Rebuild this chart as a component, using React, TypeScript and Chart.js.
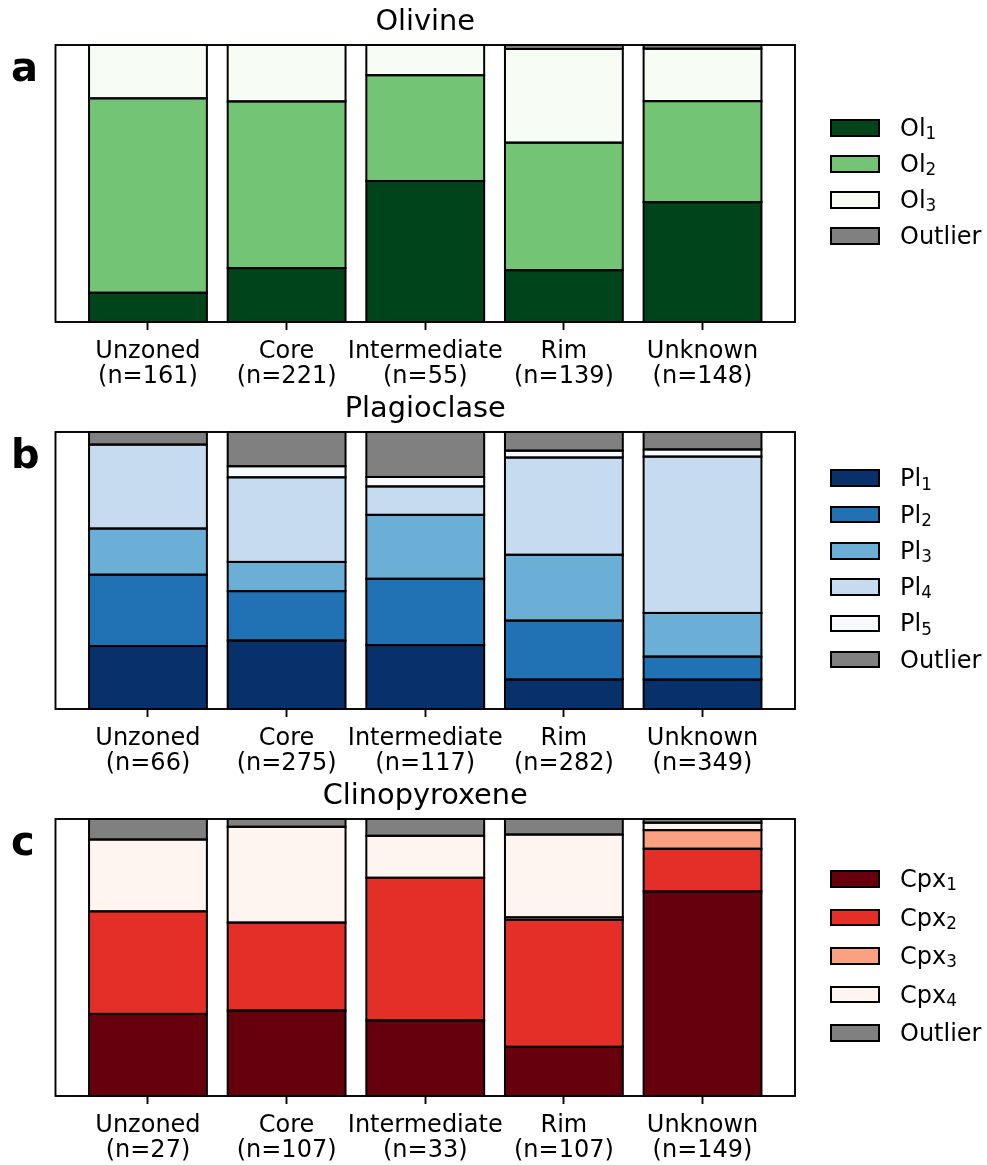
import React, { useEffect, useRef } from "react";
import { Chart, registerables } from "chart.js";

Chart.register(...registerables);

// ---------- data ----------
const categories = ["Unzoned", "Core", "Intermediate", "Rim", "Unknown"];

// Olivine (counts per category)
const olN = [161, 221, 55, 139, 148];
const ol1 = [17, 43, 28, 26, 64];
const ol2 = [113, 133, 21, 64, 54];
const ol3 = [31, 45, 6, 47, 28];
const olOutlier = [0, 0, 0, 2, 2];
const olLabels = ["Ol1", "Ol2", "Ol3", "Outlier"];

// Plagioclase (counts per category)
const plN = [66, 275, 117, 282, 349];
const pl1 = [15, 68, 27, 30, 37];
const pl2 = [17, 49, 28, 60, 29];
const pl3 = [11, 29, 27, 67, 55];
const pl4 = [20, 84, 12, 99, 197];
const pl5 = [0, 11, 4, 7, 9];
const plOutlier = [3, 34, 19, 19, 22];
const plLabels = ["Pl1", "Pl2", "Pl3", "Pl4", "Pl5", "Outlier"];

// Clinopyroxene (counts per category)
const cpxN = [27, 107, 33, 107, 149];
const cpx1 = [8, 33, 9, 19, 110];
const cpx2 = [10, 34, 17, 49, 23];
const cpx3 = [0, 0, 0, 1, 10];
const cpx4 = [7, 37, 5, 32, 4];
const cpxOutlier = [2, 3, 2, 6, 2];
const cpxLabels = ["Cpx1", "Cpx2", "Cpx3", "Cpx4", "Outlier"];

const greens = ["#00441b", "#74c476", "#f7fcf5", "#808080"];
const blues = ["#08306b", "#2171b5", "#6baed6", "#c6dbef", "#f7fbff", "#808080"];
const reds = ["#67000d", "#e32f27", "#fca082", "#fff5f0", "#808080"];

const FONT = "'DejaVu Sans', sans-serif";

type Panel = {
  title: string;
  letter: string;
  offset: number;
  n: number[];
  series: number[][];
  labels: string[];
  colors: string[];
  rowH: number;
};

const panels: Panel[] = [
  { title: "Olivine", letter: "a", offset: 0, n: olN, series: [ol1, ol2, ol3, olOutlier], labels: olLabels, colors: greens, rowH: 36 },
  { title: "Plagioclase", letter: "b", offset: 387, n: plN, series: [pl1, pl2, pl3, pl4, pl5, plOutlier], labels: plLabels, colors: blues, rowH: 36.3 },
  { title: "Clinopyroxene", letter: "c", offset: 774, n: cpxN, series: [cpx1, cpx2, cpx3, cpx4, cpxOutlier], labels: cpxLabels, colors: reds, rowH: 38.5 },
];

const CANVAS_W = 987;
const CANVAS_H = 420;
const AX_TOP = 45;
const AX_LEFT = 55.5;
const AX_RIGHT = 795;
const AX_H = 277;

// Edges of every bar, stroked centred on the bar outline (like matplotlib's edgecolor)
const edgePlugin = {
  id: "barEdges",
  afterDatasetsDraw(chart: any) {
    const { ctx, chartArea: a } = chart;
    ctx.save();
    ctx.beginPath();
    ctx.rect(a.left, a.top - 2, a.right - a.left, a.bottom - a.top + 4);
    ctx.clip();
    ctx.strokeStyle = "#000";
    ctx.lineWidth = 2;
    chart.data.datasets.forEach((_: any, di: number) => {
      const meta = chart.getDatasetMeta(di);
      meta.data.forEach((el: any) => {
        const { x, y, base, width } = el.getProps(["x", "y", "base", "width"], true);
        if (!isFinite(y) || !isFinite(base)) return;
        const top = Math.min(y, base);
        const h = Math.abs(base - y);
        ctx.strokeRect(x - width / 2, top, width, h);
      });
    });
    ctx.restore();
    // axes frame
    ctx.save();
    ctx.strokeStyle = "#000";
    ctx.lineWidth = 1.9;
    ctx.strokeRect(a.left, a.top, a.right - a.left, a.bottom - a.top);
    ctx.restore();
  },
};

function PanelChart({ panel }: { panel: Panel }) {
  const ref = useRef<HTMLCanvasElement>(null);
  useEffect(() => {
    const { n, series, labels, colors } = panel;
    const chart = new Chart(ref.current as HTMLCanvasElement, {
      type: "bar",
      data: {
        datasets: series.map((counts, si) => ({
          label: labels[si],
          data: counts.map((c, i) => ({ x: i, y: c === 0 ? null : (c / n[i]) * 100 })),
          backgroundColor: colors[si],
          borderColor: "#000",
          borderWidth: 0,
          borderSkipped: false,
          categoryPercentage: 1,
          barPercentage: 0.85,
        })),
      },
      options: {
        responsive: false,
        animation: false,
        devicePixelRatio: 1,
        layout: { padding: { left: AX_LEFT, right: CANVAS_W - AX_RIGHT, top: AX_TOP, bottom: 0 } },
        plugins: { legend: { display: false }, tooltip: { enabled: false } },
        scales: {
          x: {
            type: "linear",
            min: -0.667,
            max: 4.667,
            stacked: true,
            offset: false,
            afterBuildTicks: (s: any) => {
              s.ticks = categories.map((_, i) => ({ value: i }));
            },
            afterFit: (s: any) => {
              s.height = CANVAS_H - AX_TOP - AX_H;
            },
            grid: {
              display: true,
              offset: false,
              drawOnChartArea: false,
              drawTicks: true,
              tickLength: 8,
              tickColor: "#000",
              tickWidth: 1.9,
              color: "#000",
            },
            border: { display: false },
            ticks: {
              autoSkip: false,
              maxRotation: 0,
              minRotation: 0,
              padding: 8.8,
              color: "#000",
              font: { family: FONT, size: 24, lineHeight: 1.05 },
              callback: (_v: any, idx: number) => [categories[idx], `(n=${n[idx]})`],
            },
          },
          y: { display: false, stacked: true, min: 0, max: 100 },
        },
      } as any,
      plugins: [edgePlugin],
    });
    return () => chart.destroy();
  }, [panel]);
  return (
    <canvas
      ref={ref}
      width={CANVAS_W}
      height={CANVAS_H}
      style={{ position: "absolute", left: 0, top: panel.offset, width: CANVAS_W, height: CANVAS_H }}
    />
  );
}

function SubLabel({ text }: { text: string }) {
  const m = /^(.*?)(\d+)$/.exec(text);
  if (!m) return <span>{text}</span>;
  return (
    <span>
      {m[1]}
      <span style={{ fontSize: "0.7em", position: "relative", top: "0.2em" }}>{m[2]}</span>
    </span>
  );
}

function Overlay({ panel }: { panel: Panel }) {
  const axTop = panel.offset + AX_TOP;
  const center = axTop + AX_H / 2 - 1.5;
  const legendTop = center - (panel.labels.length * panel.rowH) / 2;
  return (
    <>
      <div
        style={{
          position: "absolute",
          left: AX_LEFT,
          width: AX_RIGHT - AX_LEFT,
          top: axTop - 38.8,
          textAlign: "center",
          fontFamily: FONT,
          fontSize: 28.8,
          lineHeight: 1,
          color: "#000",
          whiteSpace: "nowrap",
        }}
      >
        {panel.title}
      </div>
      <div
        style={{
          position: "absolute",
          left: 11,
          top: axTop + 2,
          fontFamily: FONT,
          fontWeight: "bold",
          fontSize: 40,
          lineHeight: 1,
          color: "#000",
        }}
      >
        {panel.letter}
      </div>
      <div style={{ position: "absolute", left: 830, top: legendTop }}>
        {panel.labels.map((lab, i) => (
          <div key={lab} style={{ height: panel.rowH, display: "flex", alignItems: "center" }}>
            <div
              style={{
                width: 50,
                height: 17.5,
                boxSizing: "border-box",
                border: "2px solid #000",
                background: panel.colors[i],
              }}
            />
            <div
              style={{
                marginLeft: 20,
                fontFamily: FONT,
                fontSize: 24,
                lineHeight: 1,
                color: "#000",
                whiteSpace: "nowrap",
              }}
            >
              <SubLabel text={lab} />
            </div>
          </div>
        ))}
      </div>
    </>
  );
}

export default function App() {
  return (
    <div style={{ position: "absolute", left: 0, top: 0, width: 987, height: 1165, background: "#fff" }}>
      {panels.map((p) => (
        <PanelChart key={p.title} panel={p} />
      ))}
      {panels.map((p) => (
        <Overlay key={p.title + "-o"} panel={p} />
      ))}
    </div>
  );
}
